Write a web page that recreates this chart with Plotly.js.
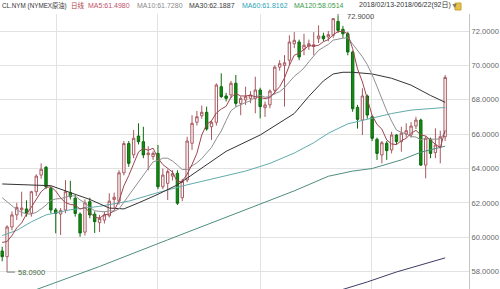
<!DOCTYPE html>
<html><head><meta charset="utf-8">
<script src="https://cdn.plot.ly/plotly-3.0.1.min.js"></script>
<style>html,body{margin:0;padding:0;background:#fff;}#chart{width:500px;height:289px;}</style>
</head><body><div id="chart"></div>
<script>
// ---- data ----
const opens = [59.2,58.87,60.6,61.3,61.6,61.65,61.4,62.65,63.62,64.07,
 62.85,61.59,61.35,61.59,62.6,62.27,61.35,60.3,62.07,61.34,
 60.85,61.0,61.25,62.2,62.1,63.75,65.45,64.8,65.89,65.56,
 64.8,64.69,64.88,62.94,63.14,63.56,63.72,62.3,63.33,65.47,
 66.69,67.07,67.27,66.43,66.69,68.76,68.22,68.28,68.96,67.79,
 67.99,68.08,68.08,68.57,67.54,67.7,68.55,69.9,70.0,70.3,
 71.26,71.36,70.94,71.13,71.1,71.55,71.71,71.65,71.75,72.56,
 72.1,71.84,70.78,67.56,66.82,68.22,67.01,65.7,64.79,65.47,
 65.08,65.95,65.56,66.0,65.95,66.47,66.82,64.2,65.7,64.92,
 65.27,65.85];
const highs = [59.45,60.7,61.5,62.0,62.65,62.15,62.7,63.66,64.3,64.15,
 62.94,61.7,61.7,63.33,63.29,62.45,61.45,62.2,62.3,61.5,
 61.3,61.5,62.56,62.6,63.9,65.6,65.6,66.24,66.63,66.43,
 65.3,65.0,65.37,64.0,63.95,63.9,63.9,63.4,65.85,67.1,
 67.35,67.66,67.6,66.8,68.95,69.54,68.4,69.1,69.44,68.2,
 68.76,68.5,69.34,68.7,67.9,68.6,70.0,70.3,70.6,71.75,
 71.94,71.5,71.84,71.5,71.94,72.33,71.9,72.0,72.75,72.9,
 72.3,71.95,70.85,67.7,68.67,68.3,67.1,65.8,65.6,65.6,
 66.14,66.0,66.43,66.63,66.7,67.01,66.9,65.9,65.8,66.34,
 66.2,69.44];
const lows = [58.6,58.09,60.4,61.0,61.2,61.2,61.2,62.4,63.4,62.8,
 61.4,60.23,60.13,61.4,62.2,61.2,60.03,60.1,61.1,60.25,
 60.3,60.8,61.15,61.7,61.9,63.6,64.1,64.6,65.4,64.6,
 63.9,64.5,62.8,62.8,62.17,63.3,61.88,62.1,63.2,65.08,
 66.5,66.9,66.2,65.66,66.5,68.1,67.9,68.1,67.6,67.1,
 67.7,67.8,67.21,66.92,67.0,67.5,68.3,69.7,67.6,70.0,
 71.0,70.3,70.59,70.9,70.59,71.3,71.4,71.4,71.6,71.9,
 71.6,70.59,67.3,66.32,65.95,66.9,65.6,64.5,64.3,64.5,
 64.88,65.4,64.98,65.8,65.8,66.3,64.15,63.43,64.6,64.6,
 64.3,65.6];
const closes = [58.87,60.6,61.3,61.74,61.7,61.4,62.65,63.56,63.96,62.94,
 61.59,61.39,61.55,62.65,62.36,61.39,60.25,62.0,61.3,60.91,
 61.1,61.3,62.1,62.33,63.75,65.45,64.3,65.76,65.56,64.79,
 64.9,64.88,62.94,63.62,63.82,63.7,61.98,63.25,65.6,66.63,
 67.01,67.27,66.3,66.69,68.86,68.18,68.08,68.96,67.79,68.08,
 68.18,68.28,68.57,67.6,67.7,68.51,69.9,70.1,70.15,71.36,
 71.46,70.49,71.17,71.26,71.2,71.71,71.55,71.79,72.72,72.04,
 71.84,70.78,67.48,66.86,68.22,67.11,65.76,64.88,65.5,65.04,
 65.95,65.56,66.05,66.2,66.47,66.82,64.2,65.76,64.88,65.37,
 65.85,69.3];
const ma5 = [59.7,59.75,60.1,60.55,60.84,61.35,61.76,62.21,62.65,62.9,
 62.94,62.69,62.29,62.02,61.91,61.87,61.64,61.73,61.46,61.17,
 61.11,61.32,61.34,61.55,62.12,62.99,63.59,64.32,64.96,65.17,
 65.06,65.18,64.61,64.23,64.03,63.79,63.21,63.27,63.67,64.23,
 64.89,65.95,66.56,66.78,67.23,67.46,67.62,68.15,68.37,68.22,
 68.22,68.26,68.18,68.14,68.07,68.13,68.46,68.76,69.27,70.0,
 70.59,70.71,70.93,71.15,71.12,71.17,71.38,71.5,71.79,71.96,
 71.99,71.83,70.97,69.8,69.04,68.09,67.09,66.57,66.29,65.66,
 65.43,65.39,65.62,65.76,66.05,66.22,65.95,65.89,65.63,65.41,
 65.21,66.23];
const ma10 = [62.3,62.05,61.8,61.6,61.45,61.35,61.35,61.45,61.65,61.87,
 62.15,62.23,62.25,62.34,62.41,62.41,62.17,62.01,61.74,61.54,
 61.49,61.48,61.54,61.51,61.65,62.05,62.46,62.83,63.26,63.65,
 64.03,64.39,64.47,64.6,64.6,64.43,64.2,63.94,63.95,64.13,
 64.34,64.58,64.92,65.23,65.73,66.18,66.79,67.36,67.58,67.73,
 67.84,67.94,68.17,68.26,68.15,68.18,68.36,68.47,68.71,69.04,
 69.36,69.59,69.85,70.21,70.56,70.88,71.05,71.22,71.47,71.54,
 71.58,71.61,71.24,70.8,70.5,70.04,69.46,68.77,68.05,67.35,
 66.76,66.24,66.1,66.03,65.86,65.83,65.67,65.76,65.7,65.73,
 65.72,66.09];
const ma30Idx = [0,5,10,14,18,22,25,28,32,36,41,46,53,60,63,66,68,70,72,76,80,84,88,91];
const ma30Val = [63.1,63.05,63.0,62.6,62.2,61.7,61.65,62.0,62.5,63.05,64.0,65.0,65.95,67.2,68.2,69.1,69.5,69.6,69.6,69.5,69.25,68.85,68.25,67.85];
const ma60Idx = [0,3,6,9,14,20,26,32,38,45,50,55,60,64,67,71,76,80,84,88,91];
const ma60Val = [60.1,60.4,60.9,61.3,61.6,61.8,62.1,62.6,63.05,63.5,63.85,64.3,64.9,65.5,66.05,66.6,66.95,67.2,67.4,67.5,67.55];
const ma120Idx = [5,20,34,50,60,67,72,76,82,86,91];
const ma120Val = [56.75,58.3,59.85,61.6,62.7,63.55,63.85,64.0,64.5,64.95,65.3];
const ma250Idx = [69,75,81,86,91];
const ma250Val = [56.88,57.4,57.98,58.4,58.8];
const yTicks = [58,60,62,64,66,68,70,72];
const monthBreaks = [11.2,32,53.1,75.9];
const headerTexts = ['CL.NYM (NYMEX原油)','日线','MA5:61.4980','MA10:61.7280','MA30:62.1887','MA60:61.8162','MA120:58.0514','2018/02/13-2018/06/22(92日)','▼'];

// ---- styles ----
const FONT = 'Liberation Sans, Arial, Noto Sans CJK SC, sans-serif';
const headerColors = ['#333333','#b03a48','#c2506a','#8a8a8a','#3a3a3a','#2e9fb5','#3a9a4a','#333333','#7a7a7a'];
const headerPx = [0,69,86,135,187,240,292,357,449];
const headerSize = [6.3,6.5,7,7,7,7,7,7,7];
const PW = 469, PH = 275, TOP = 14;

const idx = closes.map((_, i) => i);
const traces = [{
  type:'candlestick', x: idx, open: opens, high: highs, low: lows, close: closes,
  increasing:{line:{color:'#a8585f', width:1}, fillcolor:'#ffffff'},
  decreasing:{line:{color:'#0c6a0c', width:1}, fillcolor:'#148c14'},
  whiskerwidth:0, hoverinfo:'skip', showlegend:false
}];
function ln(x, y, color){ return {type:'scatter', mode:'lines', x:x, y:y, line:{color:color, width:1}, hoverinfo:'skip', showlegend:false}; }
traces.push(ln(ma250Idx, ma250Val, '#3c3c66'));
traces.push(ln(ma120Idx, ma120Val, '#4f8d80'));
traces.push(ln(ma60Idx, ma60Val, '#62abac'));
traces.push(ln(ma30Idx, ma30Val, '#333333'));
traces.push(ln(idx, ma10, '#8f8f8f'));
traces.push(ln(idx, ma5, '#9c4450'));

const annotations = headerTexts.map((t, k) => ({
  xref:'paper', yref:'paper', x: headerPx[k]/PW, y:(289-5.5)/PH, xanchor:'left', yanchor:'middle',
  text:t, showarrow:false, font:{family:FONT, size:headerSize[k], color:headerColors[k]}
}));
let iMax = 0, iMin = 0;
highs.forEach((v,i)=>{ if (v > highs[iMax]) iMax = i; });
lows.forEach((v,i)=>{ if (v < lows[iMin]) iMin = i; });
annotations.push({x:iMax, y:highs[iMax], xref:'x', yref:'y', text:highs[iMax].toFixed(4), showarrow:false,
  xanchor:'left', yanchor:'middle', xshift:7, yshift:-1, font:{family:FONT, size:7.5, color:'#4a4a4a'}});
annotations.push({x:iMin, y:lows[iMin], xref:'x', yref:'y', text:lows[iMin].toFixed(4), showarrow:false,
  xanchor:'left', yanchor:'middle', xshift:9, yshift:-2, font:{family:FONT, size:7.5, color:'#3f6a3f'}});

const shapes = [
  {type:'line', xref:'x', yref:'y', xsizemode:'pixel', ysizemode:'pixel', xanchor:iMax, yanchor:highs[iMax], x0:0, x1:0, y0:0, y1:2, line:{color:'#777', width:1}},
  {type:'line', xref:'x', yref:'y', xsizemode:'pixel', ysizemode:'pixel', xanchor:iMax, yanchor:highs[iMax], x0:0, x1:6, y0:2, y1:2, line:{color:'#777', width:1}},
  {type:'line', xref:'x', yref:'y', xsizemode:'pixel', ysizemode:'pixel', xanchor:iMin, yanchor:lows[iMin], x0:0, x1:0, y0:0, y1:-2, line:{color:'#777', width:1}},
  {type:'line', xref:'x', yref:'y', xsizemode:'pixel', ysizemode:'pixel', xanchor:iMin, yanchor:lows[iMin], x0:0, x1:8, y0:-2, y1:-2, line:{color:'#777', width:1}},
  {type:'rect', xref:'paper', yref:'paper', x0:455/PW, x1:461/PW, y0:(289-10)/PH, y1:(289-3)/PH, fillcolor:'#e6c04a', line:{color:'#c9a030', width:1}}
];

const layout = {
  width:500, height:289, margin:{l:0, r:31, t:TOP, b:0, pad:0},
  paper_bgcolor:'#ffffff', plot_bgcolor:'#ffffff', showlegend:false,
  xaxis:{range:[-0.45, 95.9], rangeslider:{visible:false}, tickvals:monthBreaks, showticklabels:false, ticks:'',
    showgrid:true, gridcolor:'#e2e2e2', gridwidth:1, zeroline:false, showline:false, fixedrange:true},
  yaxis:{side:'right', range:[56.99, 72.99], tickvals:yTicks, tickformat:'.4f', ticks:'',
    tickfont:{family:FONT, size:7.6, color:'#666666'}, showgrid:true, gridcolor:'#e2e2e2', gridwidth:1,
    zeroline:false, showline:true, linecolor:'#c4c4c4', linewidth:1, fixedrange:true},
  annotations:annotations, shapes:shapes
};
Plotly.newPlot('chart', traces, layout, {displayModeBar:false, staticPlot:true});
</script></body></html>
